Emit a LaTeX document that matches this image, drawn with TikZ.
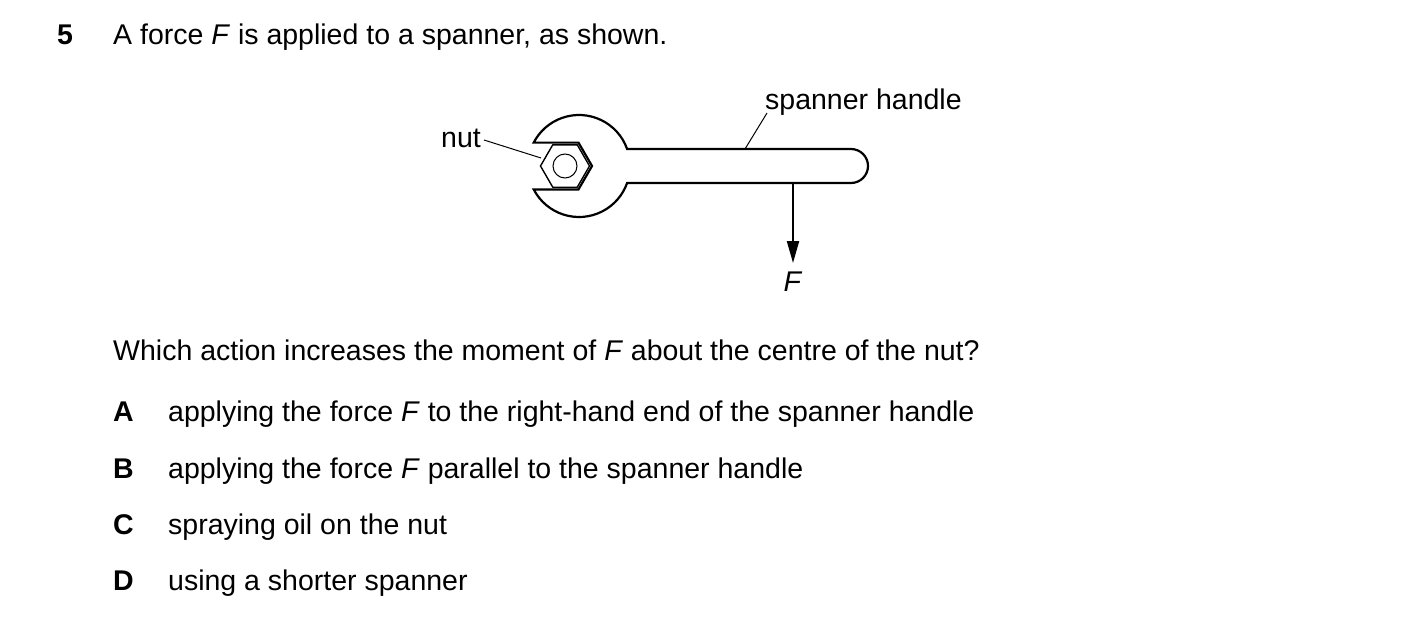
\documentclass[tikz,border=0pt]{standalone}
\usepackage{fontspec}
\setmainfont{Liberation Sans}
\usetikzlibrary{arrows.meta,calc}
\begin{document}
\begin{tikzpicture}[x=1pt,y=-1pt,
  txt/.style={anchor=base west,inner sep=0pt,font=\fontsize{28.5}{34}\selectfont},
  lbl/.style={inner sep=0pt,font=\fontsize{28.5}{34}\selectfont},
  outline/.style={line width=2.2pt,line join=miter},
  thin/.style={line width=1pt},
  force/.style={line width=2pt,-{Triangle[length=22pt,width=12pt]}}]
\useasboundingbox (0,0) rectangle (1403,642);
% question text
\node[txt,font=\fontsize{28.5}{34}\selectfont\bfseries] (qn) at (57,45) {5};
\node[txt] (q1) at (113,45) {A force \textit{F} is applied to a spanner, as shown.};
% spanner
\draw[outline] (627.1,149) arc[start angle=-19.47,end angle=-152.7,radius=51]
  -- (578.5,142.6) -- (592,166) -- (578.5,189.4) -- (533.7,189.4)
  arc[start angle=152.7,end angle=19.47,radius=51]
  -- (851,183) arc[start angle=90,end angle=-90,radius=17] -- cycle;
% nut
\coordinate (nc) at (565,166);
\draw[line width=1.4pt] ($(nc)+(24.5,0)$) -- ++(-12.25,-21.2) -- ++(-24.5,0) -- ++(-12.25,21.2) -- ++(12.25,21.2) -- ++(24.5,0) -- cycle;
\node[draw,circle,line width=1pt,minimum size=24pt,inner sep=0pt] (bolt) at (nc) {};
\coordinate (nutpt) at (541,158);
\node[lbl,anchor=base east] (nut) at (481,147) {nut};
\draw[thin] (484,140) -- (nutpt);
% handle label
\coordinate (hpt) at (745,149);
\node[lbl,anchor=base west] (hl) at (765,110) {spanner handle};
\draw[thin] (767,113) -- (hpt);
% force
\coordinate (fa) at (793,183);
\node[lbl,anchor=base] (F) at (793,291) {\textit{F}};
\draw[force] (fa) -- (793,263);
% question
\node[txt] (q2) at (113,360) {Which action increases the moment of \textit{F} about the centre of the nut?};
\node[txt,font=\fontsize{28.5}{34}\selectfont\bfseries] (la) at (113,421) {A};
\node[txt] (ta) at (168,421) {applying the force \textit{F} to the right-hand end of the spanner handle};
\node[txt,font=\fontsize{28.5}{34}\selectfont\bfseries] (lb) at (113,478) {B};
\node[txt] (tb) at (168,478) {applying the force \textit{F} parallel to the spanner handle};
\node[txt,font=\fontsize{28.5}{34}\selectfont\bfseries] (lc) at (113,534) {C};
\node[txt] (tc) at (168,534) {spraying oil on the nut};
\node[txt,font=\fontsize{28.5}{34}\selectfont\bfseries] (ld) at (113,590) {D};
\node[txt] (td) at (168,590) {using a shorter spanner};
\end{tikzpicture}
\end{document}
